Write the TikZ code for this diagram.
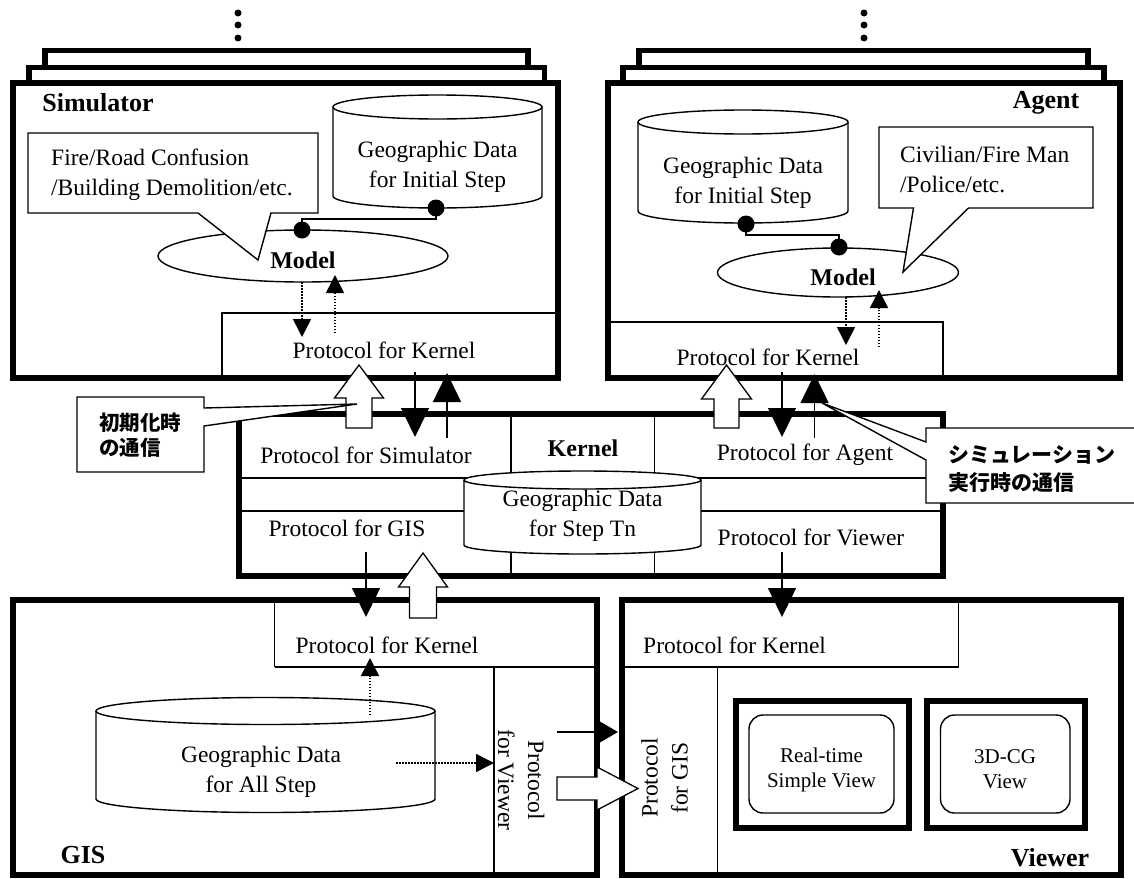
\documentclass[tikz,border=0pt]{standalone}
\usepackage{fontspec}
\setmainfont{Liberation Serif}
\newfontfamily\cjk{Noto Sans CJK JP}
\usetikzlibrary{arrows.meta,shapes.geometric}
\newcommand{\mycyl}[6]{%
  \pgfmathsetmacro{\cylrx}{(#3-#2)/2}%
  \pgfmathsetmacro{\cylcx}{(#3+#2)/2}%
  \draw[thinln,fill=white] (#2,#4) -- (#2,#5) arc[start angle=180,end angle=360,x radius=\cylrx pt,y radius=#6 pt] -- (#3,#4);
  \draw[thinln,fill=white] (\cylcx,#4) ellipse[x radius=\cylrx pt,y radius=#6 pt];
  \coordinate (#1) at (\cylcx,#5);
}
\newcommand{\hollowup}[7]{%
  \draw[hollowarrow] (#2-#6,#5) -- (#2-#6,#4) -- (#2-#7,#4) -- (#2,#3) -- (#2+#7,#4) -- (#2+#6,#4) -- (#2+#6,#5) -- cycle;
  \coordinate (#1) at (#2,#3);
}
\tikzset{
  bigbox/.style={draw,line width=5.5pt,fill=white},
  thinln/.style={line width=1.4pt},
  txt/.style={font=\fontsize{23.5}{30}\selectfont,inner sep=0pt,align=center},
  lbl/.style={font=\fontsize{26}{30}\selectfont\bfseries,inner sep=0pt},
  mlbl/.style={font=\fontsize{24}{30}\selectfont\bfseries,inner sep=0pt},
  montxt/.style={font=\fontsize{21}{25}\selectfont,inner sep=0pt,align=center},
  jptxt/.style={font=\cjk\bfseries\fontsize{20.5}{25}\selectfont,inner sep=0pt,align=left,anchor=west},
  solidarrow/.style={line width=1.5pt,-{Triangle[length=29pt,width=28pt]}},
  dotarrow/.style={line width=1.5pt,dash pattern=on 1.5pt off 1.5pt,-{Triangle[length=18pt,width=18pt]}},
  hollowarrow/.style={draw,fill=white,line width=1.3pt,line join=miter},
  callout/.style={draw,fill=white,line width=1.4pt},
  monframe/.style={draw,line width=6pt},
  monscreen/.style={draw,line width=1.4pt,rounded corners=14pt},
}
\begin{document}
\begin{tikzpicture}[x=1pt,y=-1pt]
\useasboundingbox (0,0) rectangle (1134,878);
\fill[white] (0,0) rectangle (1134,878);

% ---------------- Simulator ----------------
\foreach \yy in {13,25,38} \fill (238,\yy) circle[radius=3.5pt];
\draw[bigbox] (45,50.5) rectangle (528,100);
\draw[bigbox] (29,67.5) rectangle (544.5,100);
\draw[bigbox] (13,83) rectangle (558,378);
\node[lbl] (simlbl) at (98,103) {Simulator};
\draw[thinln] (222,378) -- (222,313) -- (558,313);
\node[txt] (simpk) at (384,350) {Protocol for Kernel};
\mycyl{simcyl}{333}{542}{107}{196}{12}
\node[txt] (simcyltxt) at (437.5,167) {Geographic Data\\for Initial Step};
\node[draw,ellipse,thinln,minimum width=290pt,minimum height=52pt,inner sep=0pt] (simmodel) at (303,256) {};
\node[mlbl] (simmodeltxt) at (303,260) {Model};
\coordinate (simdotA) at (436,208);
\coordinate (simdotB) at (302,230);
\draw[thinln] (simdotA) -- (436,219) -- (302,219) -- (simdotB);
\fill (simdotA) circle[radius=8.5pt];
\fill (simdotB) circle[radius=8.5pt];
\coordinate (simmd1) at (302,282);
\coordinate (simmd2) at (302,337);
\coordinate (simmu1) at (335,333);
\coordinate (simmu2) at (335,275);
\draw[dotarrow] (simmd1) -- (simmd2);
\draw[dotarrow] (simmu1) -- (simmu2);
\draw[callout] (28,133) -- (318,133) -- (318,213) -- (271,213) -- (258,260) -- (198,213) -- (28,213) -- cycle;
\node[txt,align=left,anchor=west] (simcall) at (51,175) {Fire/Road Confusion\\/Building Demolition/etc.};

% ---------------- Agent ----------------
\foreach \yy in {13,25,38} \fill (864,\yy) circle[radius=3.5pt];
\draw[bigbox] (639,50.5) rectangle (1088,100);
\draw[bigbox] (623,67.5) rectangle (1104,100);
\draw[bigbox] (608,83) rectangle (1120,378);
\node[lbl] (aglbl) at (1046,103) {Agent};
\draw[thinln] (608,322) -- (943,322) -- (943,378);
\node[txt] (agpk) at (768,357) {Protocol for Kernel};
\mycyl{agcyl}{638}{848}{122}{211}{12}
\node[txt] (agcyltxt) at (743,183) {Geographic Data\\for Initial Step};
\node[draw,ellipse,thinln,minimum width=241pt,minimum height=49pt,inner sep=0pt] (agmodel) at (838,272.5) {};
\node[mlbl] (agmodeltxt) at (843,277) {Model};
\coordinate (agdotA) at (746,224);
\coordinate (agdotB) at (839,247);
\draw[thinln] (agdotA) -- (746,235) -- (839,235) -- (agdotB);
\fill (agdotA) circle[radius=8.5pt];
\fill (agdotB) circle[radius=8.5pt];
\coordinate (agmd1) at (846,297);
\coordinate (agmd2) at (846,345);
\coordinate (agmu1) at (879,347);
\coordinate (agmu2) at (879,290);
\draw[dotarrow] (agmd1) -- (agmd2);
\draw[dotarrow] (agmu1) -- (agmu2);
\draw[callout] (879,127) -- (1093,127) -- (1093,208) -- (968.5,208) -- (903,272) -- (913.5,208) -- (879,208) -- cycle;
\node[txt,align=left,anchor=west] (agcall) at (900,170) {Civilian/Fire Man\\/Police/etc.};

% ---------------- Kernel ----------------
\draw[bigbox] (239,414) rectangle (943,576);
\draw[thinln] (239,478) -- (943,478);
\draw[thinln] (239,511) -- (943,511);
\draw[thinln] (511,414) -- (511,576);
\draw[thinln] (654.5,414) -- (654.5,576);
\mycyl{kcyl}{464}{701}{480}{545}{9}
\node[txt] (kcyltxt) at (582.5,516) {Geographic Data\\for Step Tn};
\node[mlbl] (klbl) at (583,448) {Kernel};
\node[txt] (kps) at (366,455) {Protocol for Simulator};
\node[txt] (kpa) at (805,455) {Protocol for Agent};
\node[txt] (kpg) at (347,528) {Protocol for GIS};
\node[txt] (kpv) at (811,537) {Protocol for Viewer};

% ---------------- GIS ----------------
\draw[bigbox] (13,600) rectangle (597,875);
\draw[thinln] (274.6,667) -- (274.6,600);
\draw[thinln] (274.6,667) -- (597,667);
\draw[thinln] (494,667) -- (494,875);
\node[txt] (gpk) at (387,645) {Protocol for Kernel};
\node[txt,rotate=-90] (gpv) at (521,780) {Protocol\\for Viewer};
\mycyl{gcyl}{96}{435}{711}{799}{13.5}
\node[txt] (gcyltxt) at (261,772) {Geographic Data\\for All Step};
\node[lbl] (glbl) at (83,855) {GIS};
\coordinate (gdu1) at (370,715);
\coordinate (gdu2) at (370,658);
\coordinate (gdr1) at (396,763);
\coordinate (gdr2) at (494,763);
\draw[dotarrow] (gdu1) -- (gdu2);
\draw[dotarrow] (gdr1) -- (gdr2);

% ---------------- Viewer ----------------
\draw[bigbox] (622,600) rectangle (1121,875);
\draw[thinln] (622,667) -- (958.5,667) -- (958.5,600);
\draw[thinln] (717.5,667) -- (717.5,875);
\node[txt] (vpk) at (734.6,645) {Protocol for Kernel};
\node[txt,rotate=90] (vpg) at (664.5,778) {Protocol\\for GIS};
\draw[monframe] (735.5,700.5) rectangle (908.5,827.5);
\draw[monscreen] (749,715) rectangle (894,813);
\node[montxt] (mon1) at (821.5,769.5) {Real-time\\Simple View};
\draw[monframe] (927,700.5) rectangle (1084.5,827.5);
\draw[monscreen] (940.5,715) rectangle (1070,813);
\node[montxt] (mon2) at (1005,769.5) {3D-CG\\View};
\node[lbl] (vlbl) at (1050,858) {Viewer};

% ---------------- Inter-module arrows ----------------
\coordinate (sdA) at (415,372); \coordinate (sdB) at (415,437);
\coordinate (suA) at (447,438); \coordinate (suB) at (447,373);
\draw[solidarrow] (sdA) -- (sdB);
\draw[solidarrow] (suA) -- (suB);
\coordinate (adA) at (782,372); \coordinate (adB) at (782,437);
\coordinate (auA) at (814.6,438); \coordinate (auB) at (814.6,374);
\draw[solidarrow] (adA) -- (adB);
\draw[solidarrow] (auA) -- (auB);
\coordinate (gdA) at (366,552); \coordinate (gdB) at (366,617);
\draw[solidarrow] (gdA) -- (gdB);
\coordinate (vdA) at (782,552); \coordinate (vdB) at (782,617);
\draw[solidarrow] (vdA) -- (vdB);
\coordinate (gvA) at (557,732); \coordinate (gvB) at (618,732);
\draw[line width=1.5pt,-{Triangle[length=21pt,width=24pt]}] (gvA) -- (gvB);

\hollowup{simhol}{359}{365}{398}{428}{13}{24.5}
\hollowup{aghol}{726.5}{365}{399}{428}{12.5}{25}
\hollowup{ghol}{423}{553}{587}{618}{13.5}{24.5}
\draw[hollowarrow] (557,777) -- (597,777) -- (597,767) -- (638,788.5) -- (597,810) -- (597,800) -- (557,800) -- cycle;

% ---------------- Japanese callouts ----------------
\draw[callout] (77,397) -- (204,397) -- (204,408) -- (357,404) -- (204,426) -- (204,472) -- (77,472) -- cycle;
\node[jptxt] (jp1) at (99,435.5) {初期化時\\の通信};
\draw[callout] (926,428) -- (1150,428) -- (1150,503) -- (926,503) -- (926,460) -- (822,403) -- (926,442) -- cycle;
\node[jptxt,font=\cjk\bfseries\fontsize{21}{28}\selectfont] (jp2) at (948,469) {シミュレーション\\実行時の通信};
\end{tikzpicture}
\end{document}
